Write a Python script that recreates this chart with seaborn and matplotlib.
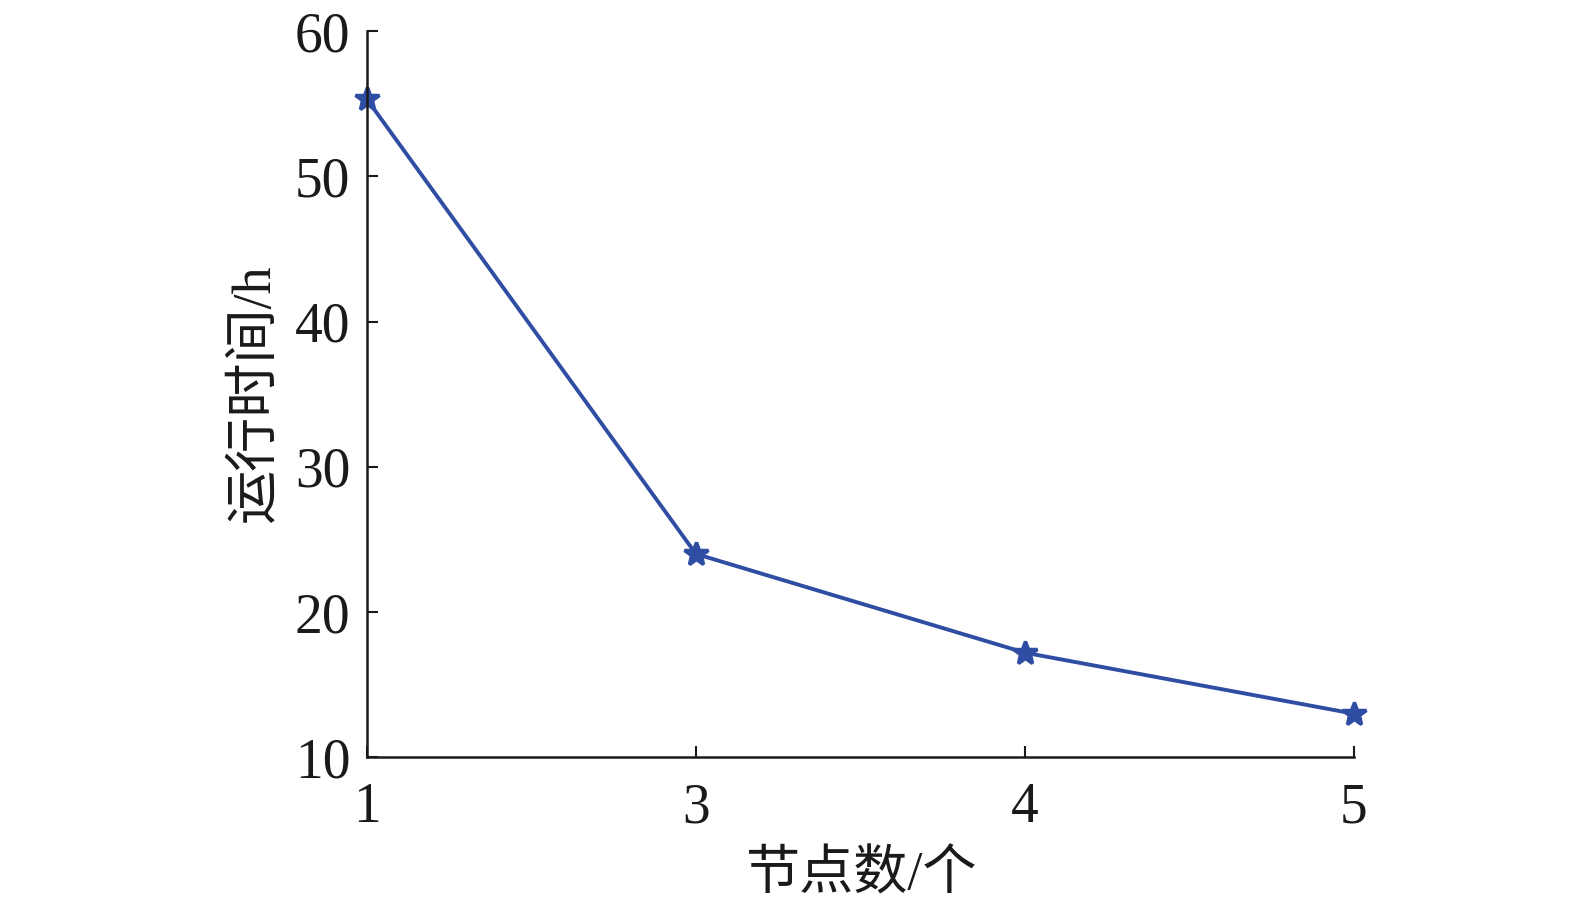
import pandas as pd
import matplotlib
matplotlib.use('Agg')
import matplotlib.pyplot as plt
import seaborn as sns

# Données
nodes = ['1', '3', '4', '5']
run_time = [55.3, 24.0, 17.2, 13.0]
y_ticks = [10, 20, 30, 40, 50, 60]

df = pd.DataFrame({'nodes': nodes, 'time': run_time})

sns.set_style('ticks')
plt.rcParams['font.family'] = ['Liberation Serif', 'Noto Sans CJK SC']

fig = plt.figure(figsize=(15.75, 9.02), dpi=100)
ax = fig.add_axes([0.233, 0.1605, 0.6265, 0.805])

sns.lineplot(data=df, x='nodes', y='time', ax=ax, color='#2f4da3', linewidth=2.8,
             marker='*', markersize=18, markeredgewidth=2.5, markeredgecolor='#2f4da3',
             sort=False, clip_on=False)

ax.set_xlim(0, len(nodes) - 1)
ax.set_ylim(10, 60)
ax.set_yticks(y_ticks)
ax.set_xticks(range(len(nodes)))
ax.set_xticklabels(nodes)
ax.tick_params(axis='both', direction='in', length=8, width=1.5, colors='#1a1a1a',
               labelsize=40)
ax.tick_params(axis='x', pad=18)
ax.tick_params(axis='y', pad=12)
for s in ['left', 'bottom']:
    ax.spines[s].set_linewidth(1.8)
    ax.spines[s].set_color('#1a1a1a')
sns.despine(ax=ax)

ax.set_xlabel('节点数/个', fontsize=39, color='#1a1a1a', labelpad=12)
ax.set_ylabel('运行时间/h', fontsize=39, color='#1a1a1a', labelpad=10)

plt.savefig('out.png', dpi=100)
